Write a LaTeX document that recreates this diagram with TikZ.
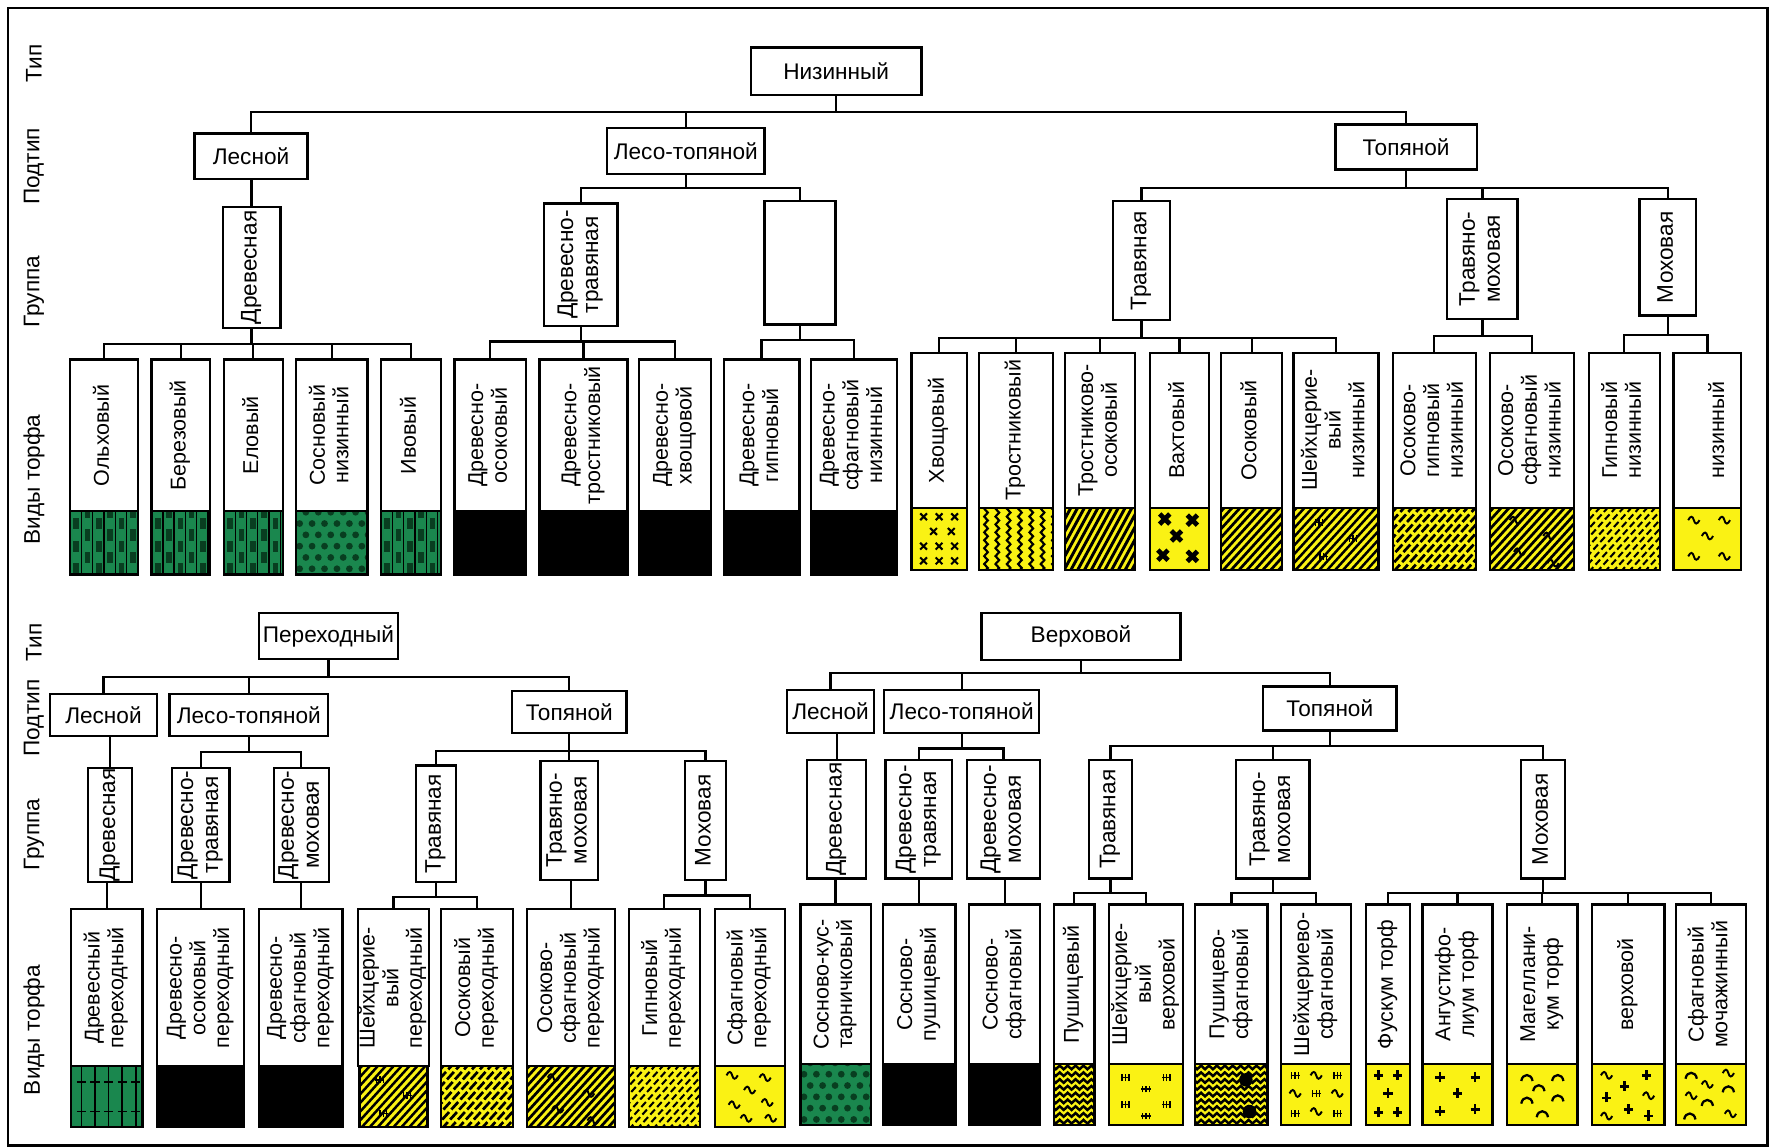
\documentclass[tikz,border=0pt]{standalone}
\usepackage{fontspec}
\setmainfont{Liberation Sans}
\usepackage{graphicx}
\usetikzlibrary{decorations.pathmorphing}
\definecolor{wgreen}{RGB}{26,135,78}
\definecolor{dgreen}{RGB}{8,62,32}
\definecolor{pyel}{RGB}{250,242,20}
\newcommand\rotlines[1]{\begin{tabular}{@{}c@{}}#1\end{tabular}}
\newcommand\putmarks[3]{\foreach \mx/\my in {#3} \pic at ({\mx*#1},\my) {#2};}
\tikzset{
 mkx/.pic={\draw[line width=1.8pt] (-3,-3) -- (3,3) (-3,3) -- (3,-3);},
 mkb/.pic={\draw[line width=4.2pt] (-4.5,-4.5) -- (4.5,4.5) (-4.5,4.5) -- (4.5,-4.5);},
 mkt/.pic={\draw[line width=1.7pt] (-5,0) .. controls (-3,4) and (-1,4) .. (0,0) .. controls (1,-4) and (3,-4) .. (5,0);},
 mkp/.pic={\draw[line width=2.4pt] (-4,0) -- (4,0) (0,-4) -- (0,5);},
 mkr/.pic={\draw[line width=1.2pt] (-3,-3) -- (-3,3) (0,-3) -- (0,3) (3,-3) -- (3,3) (-4,0) -- (4,0);},
 mka/.pic={\draw[line width=2pt] (-5,-3) .. controls (-4,4) and (4,4) .. (5,-3);},
 spbox/.style={draw, line width=2pt, fill=white, anchor=north, inner sep=0pt, outer sep=0pt, font=\fontsize{19}{21}\selectfont},
 patbox/.style={anchor=north, inner sep=0pt, outer sep=0pt},
 gbox/.style={draw, line width=2pt, inner sep=0pt, font=\fontsize{20}{22}\selectfont},
 hbox/.style={draw, line width=2pt, inner sep=2pt, font=\fontsize{20}{22}\selectfont},
 axl/.style={rotate=90, inner sep=0pt, font=\fontsize{20}{22}\selectfont},
 conn/.style={line width=2pt},
 snk/.style={line width=1.9pt, decorate, decoration={snake,amplitude=1.6pt,segment length=7pt}},
}
% ---- pattern macros: origin at lower left, y up, #1 = width
\newcommand\hatchlines[2]{\foreach \i in {-70,-63,...,90} \draw[line width=#1,#2] (\i,-2) -- ++(60,66);}
\newcommand\patpwood[1]{\fill[wgreen] (0,0) rectangle (#1,60);
   \foreach \j in {0,2,4}{\foreach \i in {0,20,...,80}{
     \fill[dgreen] (\i+3,\j*10) rectangle ++(5,10);
     \fill[dgreen] (\i+13,\j*10+10) rectangle ++(5,10);}}
   \foreach \i in {10,20,...,80} \draw[line width=1.2pt] (\i,0) -- ++(0,60);}
\newcommand\patpsosn[1]{\fill[wgreen] (0,0) rectangle (#1,60);
   \foreach \j in {0,...,5}{\foreach \i in {0,...,7}{
     \fill[dgreen] ({\i*11+5.5*mod(\j,2)+3},{\j*10+5}) circle (3);}}}
\newcommand\patpwoodv[1]{\fill[wgreen] (0,0) rectangle (#1,60);
   \foreach \i in {9,21,...,90} {\draw[line width=1.6pt] (\i,0) -- (\i,60);
     \draw[line width=1.6pt] (\i-4,14) -- ++(8,0) (\i-4,40) -- ++(8,0);}}
\newcommand\patpblk[1]{\fill[black] (0,0) rectangle (#1,60);}
\newcommand\patphatch[1]{\fill[pyel] (0,0) rectangle (#1,60); \hatchlines{2.4pt}{}}
\newcommand\patphatchd[1]{\fill[pyel] (0,0) rectangle (#1,60); \hatchlines{2.4pt}{dash pattern=on 9pt off 3pt}}
\newcommand\patphatchl[1]{\fill[pyel] (0,0) rectangle (#1,60); \hatchlines{1.8pt}{dash pattern=on 6pt off 3pt}}
\newcommand\patphatcht[1]{\fill[pyel] (0,0) rectangle (#1,60); \hatchlines{2.4pt}{}
   \putmarks{#1}{mkt}{.3/44,.7/30,.35/16,.75/6}}
\newcommand\patphatchm[1]{\fill[pyel] (0,0) rectangle (#1,60); \hatchlines{2.2pt}{}
   \putmarks{#1}{mkr}{.3/42,.7/28,.35/12}}
\newcommand\patptros[1]{\fill[pyel] (0,0) rectangle (#1,60);
   \foreach \i in {-50,-44,...,90} \draw[line width=2.6pt] (\i,-2) -- ++(36,66);}
\newcommand\patpwavyv[1]{\fill[pyel] (0,0) rectangle (#1,60);
   \foreach \i in {6,16,...,90} \draw[snk] (\i,-4) -- (\i,64);}
\newcommand\patpwavyh[1]{\fill[pyel] (0,0) rectangle (#1,60);
   \foreach \j in {3,9,...,60} \draw[snk,line width=2.2pt] (-4,\j) -- (90,\j);}
\newcommand\patpwavyhb[1]{\patpwavyh{#1}
   \fill ({0.7*#1},40) circle (6); \fill ({0.75*#1},12) circle (6);}
\newcommand\patpxm[1]{\fill[pyel] (0,0) rectangle (#1,60);
   \putmarks{#1}{mkx}{.22/47,.5/47,.78/47,.4/34,.72/34,.22/21,.5/21,.78/21,.22/8,.5/8,.78/8}}
\newcommand\patpvah[1]{\fill[pyel] (0,0) rectangle (#1,60);
   \putmarks{#1}{mkb}{.25/45,.72/44,.45/30,.22/13,.72/12}}
\newcommand\patptil[1]{\fill[pyel] (0,0) rectangle (#1,60);
   \putmarks{#1}{mkt}{.3/44,.75/44,.5/30,.3/12,.75/12}}
\newcommand\patptiltwo[1]{\fill[pyel] (0,0) rectangle (#1,60);
   \putmarks{#1}{mkt}{.25/46,.72/44,.5/33,.28/20,.75/22,.45/8,.8/8}}
\newcommand\patpbar[1]{\fill[pyel] (0,0) rectangle (#1,60);
   \putmarks{#1}{mkr}{.22/42,.78/42,.5/32,.22/18,.78/18,.5/8}}
\newcommand\patpbt[1]{\fill[pyel] (0,0) rectangle (#1,60);
   \putmarks{#1}{mkr}{.2/44,.8/44,.5/28,.2/10,.8/10}
   \putmarks{#1}{mkt}{.5/44,.2/28,.8/28,.5/12}}
\newcommand\patpfus[1]{\fill[pyel] (0,0) rectangle (#1,60);
   \putmarks{#1}{mkp}{.28/44,.72/44,.5/28,.28/11,.72/11}}
\newcommand\patpang[1]{\fill[pyel] (0,0) rectangle (#1,60);
   \putmarks{#1}{mkp}{.25/42,.75/42,.5/28,.25/12,.75/14}}
\newcommand\patpmag[1]{\fill[pyel] (0,0) rectangle (#1,60);
   \putmarks{#1}{mka}{.28/42,.72/42,.45/33,.72/24,.28/22,.5/10}}
\newcommand\patpverh[1]{\fill[pyel] (0,0) rectangle (#1,60);
   \putmarks{#1}{mkp}{.75/44,.45/34,.2/24,.5/14,.78/8}
   \putmarks{#1}{mkt}{.2/44,.78/26,.2/8}}
\newcommand\patpmoch[1]{\fill[pyel] (0,0) rectangle (#1,60);
   \putmarks{#1}{mka}{.22/44,.75/32,.45/20,.2/8}
   \putmarks{#1}{mkt}{.75/46,.45/36,.22/26,.78/10}}
% name, xl, xr, ytop, ymid, ybot, pattern, text
\newcommand\peatbox[8]{%
  \pgfmathsetmacro\spw{#3-#2}%
  \node[spbox, minimum width=\spw, minimum height={#5-#4}] (#1) at ({(#2+#3)/2},#4) {\rotatebox{90}{\rotlines{#8}}};
  \node[patbox, minimum width=\spw, minimum height={#6-#5}] (#1p) at (#1.south) {};
  \begin{scope}
    \clip (#1p.south west) rectangle (#1p.north east);
    \begin{scope}[shift={(#1p.south west)}, y=1pt]
      \csname pat#7\endcsname{\spw}
    \end{scope}
  \end{scope}
  \draw[line width=2pt] (#1p.south west) rectangle (#1p.north east);
}
\newcommand\grpbox[6]{% name, xl, xr, yt, yb, text
  \node[gbox, minimum width={#3-#2}, minimum height={#5-#4}] (#1) at ({(#2+#3)/2},{(#4+#5)/2}) {\rotatebox{90}{\rotlines{#6}}};
}
\newcommand\hdrbox[6]{% name, xl, xr, yt, yb, text
  \node[hbox, minimum width={#3-#2}, minimum height={#5-#4}] (#1) at ({(#2+#3)/2},{(#4+#5)/2}) {#6};
}
\begin{document}
\begin{tikzpicture}[x=1pt, y=-1pt, line join=miter]
\useasboundingbox (0,0) rectangle (1568,1015);
\draw[line width=2.5pt] (7,7) rectangle (1563,1013);
% axis labels
\node[axl] (ax1) at (30,56) {Тип};
\node[axl] (ax2) at (30,147) {Подтип};
\node[axl] (ax3) at (30,258) {Группа};
\node[axl] (ax4) at (30,424) {Виды торфа};
\node[axl] (ax5) at (30,568) {Тип};
\node[axl] (ax6) at (30,635) {Подтип};
\node[axl] (ax7) at (30,738) {Группа};
\node[axl] (ax8) at (30,911) {Виды торфа};
% ---------- top: Низинный
\hdrbox{nz}{664}{815}{42}{84}{Низинный}
\hdrbox{ls1}{172}{272}{118}{158}{Лесной}
\hdrbox{lt1}{537}{676}{113}{154}{Лесо-топяной}
\hdrbox{tp1}{1181}{1306}{110}{150}{Топяной}
\grpbox{g1a}{197}{248}{183}{290}{Древесная}
\grpbox{g1b}{481}{546}{180}{288}{Древесно-\\травяная}
\grpbox{g1c}{676}{739}{178}{287}{}
\grpbox{g1d}{984}{1035}{178}{283}{Травяная}
\grpbox{g1e}{1280}{1342}{176}{282}{Травяно-\\моховая}
\grpbox{g1f}{1450}{1500}{176}{279}{Моховая}
\peatbox{a1}{62}{122}{318}{452}{508}{pwood}{Ольховый}
\peatbox{a2}{134}{186}{318}{452}{508}{pwood}{Березовый}
\peatbox{a3}{198}{250}{318}{452}{508}{pwood}{Еловый}
\peatbox{a4}{262}{325}{318}{452}{508}{psosn}{Сосновый\\низинный}
\peatbox{a5}{337}{390}{318}{452}{508}{pwood}{Ивовый}
\peatbox{a6}{402}{465}{318}{452}{508}{pblk}{Древесно-\\осоковый}
\peatbox{a7}{477}{555}{318}{452}{508}{pblk}{Древесно-\\тростниковый}
\peatbox{a8}{565}{629}{318}{452}{508}{pblk}{Древесно-\\хвощовой}
\peatbox{a9}{640}{707}{318}{452}{508}{pblk}{Древесно-\\гипновый}
\peatbox{a10}{717}{793}{318}{452}{508}{pblk}{Древесно-\\сфагновый\\низинный}
\peatbox{a11}{806}{855}{312}{449}{504}{pxm}{Хвощовый}
\peatbox{a12}{866}{931}{312}{449}{504}{pwavyv}{Тростниковый}
\peatbox{a13}{942}{1004}{312}{449}{504}{ptros}{Тростниково-\\осоковый}
\peatbox{a14}{1017}{1069}{312}{449}{504}{pvah}{Вахтовый}
\peatbox{a15}{1080}{1134}{312}{449}{504}{phatch}{Осоковый}
\peatbox{a16}{1144}{1219}{312}{449}{504}{phatchm}{Шейхцерие-\\вый\\низинный}
\peatbox{a17}{1232}{1305}{312}{449}{504}{phatchd}{Осоково-\\гипновый\\низинный}
\peatbox{a18}{1318}{1392}{312}{449}{504}{phatcht}{Осоково-\\сфагновый\\низинный}
\peatbox{a19}{1405}{1468}{312}{449}{504}{phatchl}{Гипновый\\низинный}
\peatbox{a20}{1480}{1540}{312}{449}{504}{ptil}{\mbox{}\\низинный}
% connectors top
\foreach \c in {ls1,lt1,tp1} \draw[conn] (nz.south) -- ++(0,14) -| (\c.north);
\draw[conn] (g1a.north) -- (g1a.north |- ls1.south);
\foreach \c in {g1b,g1c} \draw[conn] (lt1.south) -- ++(0,11) -| (\c.north);
\foreach \c in {g1d,g1e,g1f} \draw[conn] (tp1.south) -- ++(0,15) -| (\c.north);
\foreach \c in {a1,a2,a3,a4,a5} \draw[conn] (g1a.south) -- ++(0,13) -| (\c.north);
\foreach \c in {a6,a7,a8} \draw[conn] (g1b.south) -- ++(0,13) -| (\c.north);
\foreach \c in {a9,a10} \draw[conn] (g1c.south) -- ++(0,13) -| (\c.north);
\foreach \c in {a11,a12,a13,a14,a15,a16} \draw[conn] (g1d.south) -- ++(0,15) -| (\c.north);
\foreach \c in {a17,a18} \draw[conn] (g1e.south) -- ++(0,14) -| (\c.north);
\foreach \c in {a19,a20} \draw[conn] (g1f.south) -- ++(0,16) -| (\c.north);
% ---------- bottom left: Переходный
\hdrbox{pr}{229}{352}{542}{583}{Переходный}
\hdrbox{ls2}{44}{139}{614}{651}{Лесной}
\hdrbox{lt2}{150}{290}{614}{651}{Лесо-топяной}
\hdrbox{tp2}{453}{554}{611}{648}{Топяной}
\grpbox{g2a}{78}{117}{679}{780}{Древесная}
\grpbox{g2b}{152}{203}{679}{780}{Древесно-\\травяная}
\grpbox{g2c}{242}{291}{679}{780}{Древесно-\\моховая}
\grpbox{g2d}{368}{403}{677}{780}{Травяная}
\grpbox{g2e}{478}{529}{673}{778}{Травяно-\\моховая}
\grpbox{g2f}{606}{642}{673}{778}{Моховая}
\peatbox{b1}{63}{126}{804}{943}{997}{pwoodv}{Древесный\\переходный}
\peatbox{b2}{139}{216}{804}{943}{997}{pblk}{Древесно-\\осоковый\\переходный}
\peatbox{b3}{229}{303}{804}{943}{997}{pblk}{Древесно-\\сфагновый\\переходный}
\peatbox{b4}{318}{378}{804}{943}{997}{phatchm}{Шейхцерие-\\вый\\переходный}
\peatbox{b5}{390}{454}{804}{943}{997}{phatchd}{Осоковый\\переходный}
\peatbox{b6}{466}{544}{804}{943}{997}{phatcht}{Осоково-\\сфагновый\\переходный}
\peatbox{b7}{556}{619}{804}{943}{997}{phatchl}{Гипновый\\переходный}
\peatbox{b8}{632}{694}{804}{943}{997}{ptiltwo}{Сфагновый\\переходный}
\foreach \c in {ls2,lt2,tp2} \draw[conn] (pr.south) -- ++(0,15) -| (\c.north);
\draw[conn] (g2a.north) -- (g2a.north |- ls2.south);
\foreach \c in {g2b,g2c} \draw[conn] (lt2.south) -- ++(0,13) -| (\c.north);
\foreach \c in {g2d,g2e,g2f} \draw[conn] (tp2.south) -- ++(0,15) -| (\c.north);
\draw[conn] (b1.north) -- (b1.north |- g2a.south);
\draw[conn] (b2.north) -- (b2.north |- g2b.south);
\draw[conn] (b3.north) -- (b3.north |- g2c.south);
\foreach \c in {b4,b5} \draw[conn] (g2d.south) -- ++(0,12) -| (\c.north);
\draw[conn] (b6.north) -- (b6.north |- g2e.south);
\foreach \c in {b7,b8} \draw[conn] (g2f.south) -- ++(0,13) -| (\c.north);
% ---------- bottom right: Верховой
\hdrbox{vr}{868}{1044}{542}{584}{Верховой}
\hdrbox{ls3}{696}{773}{610}{648}{Лесной}
\hdrbox{lt3}{782}{919}{610}{648}{Лесо-топяной}
\hdrbox{tp3}{1117}{1235}{607}{646}{Топяной}
\grpbox{g3a}{714}{766}{672}{777}{Древесная}
\grpbox{g3b}{783}{842}{672}{777}{Древесно-\\травяная}
\grpbox{g3c}{855}{920}{672}{777}{Древесно-\\моховая}
\grpbox{g3d}{963}{1001}{672}{777}{Травяная}
\grpbox{g3e}{1093}{1158}{672}{777}{Травяно-\\моховая}
\grpbox{g3f}{1345}{1384}{672}{777}{Моховая}
\peatbox{b9}{708}{770}{800}{941}{995}{psosn}{Сосново-кус-\\тарничковый}
\peatbox{b10}{781}{845}{800}{941}{995}{pblk}{Сосново-\\пушицевый}
\peatbox{b11}{857}{920}{800}{941}{995}{pblk}{Сосново-\\сфагновый}
\peatbox{b12}{932}{968}{800}{941}{995}{pwavyh}{Пушицевый}
\peatbox{b13}{981}{1046}{800}{941}{995}{pbar}{Шейхцерие-\\вый\\верховой}
\peatbox{b14}{1057}{1121}{800}{941}{995}{pwavyhb}{Пушицево-\\сфагновый}
\peatbox{b15}{1133}{1195}{800}{941}{995}{pbt}{Шейхцериево-\\сфагновый}
\peatbox{b16}{1208}{1247}{800}{941}{995}{pfus}{Фускум торф}
\peatbox{b17}{1258}{1320}{800}{941}{995}{pang}{Ангустифо-\\лиум торф}
\peatbox{b18}{1333}{1395}{800}{941}{995}{pmag}{Магеллани-\\кум торф}
\peatbox{b19}{1408}{1472}{800}{941}{995}{pverh}{верховой}
\peatbox{b20}{1482}{1544}{800}{941}{995}{pmoch}{Сфагновый\\мочажинный}
\foreach \c in {ls3,lt3,tp3} \draw[conn] (vr.south) -- ++(0,10) -| (\c.north);
\draw[conn] (g3a.north) -- (g3a.north |- ls3.south);
\foreach \c in {g3b,g3c} \draw[conn] (lt3.south) -- ++(0,13) -| (\c.north);
\foreach \c in {g3d,g3e,g3f} \draw[conn] (tp3.south) -- ++(0,13) -| (\c.north);
\draw[conn] (b9.north) -- (b9.north |- g3a.south);
\draw[conn] (b10.north) -- (b10.north |- g3b.south);
\draw[conn] (b11.north) -- (b11.north |- g3c.south);
\foreach \c in {b12,b13} \draw[conn] (g3d.south) -- ++(0,12) -| (\c.north);
\foreach \c in {b14,b15} \draw[conn] (g3e.south) -- ++(0,12) -| (\c.north);
\foreach \c in {b16,b17,b18,b19,b20} \draw[conn] (g3f.south) -- ++(0,12) -| (\c.north);
\end{tikzpicture}
\end{document}
